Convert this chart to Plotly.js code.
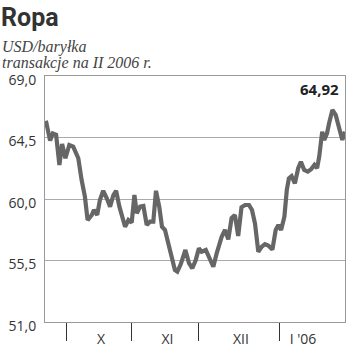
<!DOCTYPE html>
<html>
<head>
<meta charset="utf-8">
<script src="https://cdn.plot.ly/plotly-3.0.1.min.js"></script>
<style>
html,body{margin:0;padding:0;background:#fff;}
#chart{width:350px;height:355px;}
</style>
</head>
<body>
<div id="chart"></div>
<script>
// session position (chart scale 0..100) and price USD/barrel
const sesja = [0.3,1.7,2.6,3.7,4.8,5.7,6.8,8.1,9.4,11.1,12.2,13.3,14.2,15.6,16.3,17.4,18.3,19.4,20.6,21.7,22.8,23.7,24.8,25.9,26.7,27.8,28.9,29.8,30.6,31.7,32.8,33.9,35,36.1,37,38.1,39,40,41.1,42.2,43.3,44.1,45.2,46.8,48,49.1,50.2,51.3,52.2,53.6,54.7,56.1,57.2,58.9,60,61.1,62.2,63.3,64.4,65.5,66.7,68,69,70,71.1,72.2,73.3,74.4,75.8,76.9,77.8,78.7,79.8,80.6,81.3,82.2,83.3,84.4,85.3,86.4,87.6,88.7,89.8,90.7,91.4,92.4,93.1,94,94.7,95.8,96.9,98,99.1,100];
const cena = [65.73,64.27,64.8,64.7,62.49,64.02,62.98,63.95,63.83,62.98,61.39,60.17,58.46,58.83,59.2,58.83,59.93,60.6,60.05,59.44,60.29,60.6,59.44,58.59,57.97,58.46,58.27,60.29,58.95,59.44,59.49,58.1,58.34,58.34,60.6,59.4,57.97,57.73,56.76,55.54,54.8,54.68,55.2,56.27,55.3,54.93,55.5,56.39,56.14,56.27,55.66,55.05,56.0,57.24,57.73,57.05,58.6,58.83,57.3,59.4,59.56,59.56,59.2,58.2,56.14,56.5,56.7,56.6,56.3,57.73,58.1,57.73,58.7,60.66,61.51,61.68,61.15,62.25,62.73,62.12,62.0,62.17,62.49,62.25,63.1,64.92,64.32,64.8,65.54,66.51,66.15,65.29,64.32,64.92];

const monthBounds = [7, 28.7, 51.3, 78];
const monthLabelPos = [18.7, 40.8, 65.3, 86];
const monthLabels = ['X', 'XI', 'XII', "I '06"];
const yTickVals = [51, 55.5, 60, 64.5, 69];
const yTickText = ['51,0', '55,5', '60,0', '64,5', '69,0'];
const lastLabel = '64,92';

const trace = {
  x: sesja, y: cena, type: 'scatter', mode: 'lines',
  line: {color: '#666666', width: 4.2, shape: 'linear'},
  hoverinfo: 'skip', cliponaxis: true
};

const layout = {
  width: 350, height: 355,
  margin: {l: 45, r: 5, t: 76, b: 33, pad: 0},
  paper_bgcolor: '#fff', plot_bgcolor: '#fff',
  showlegend: false,
  xaxis: {
    range: [0, 100], showgrid: false, zeroline: false,
    showline: true, mirror: true, linecolor: '#999', linewidth: 1,
    tickmode: 'array', tickvals: monthLabelPos, ticktext: monthLabels,
    ticks: '', ticklabelstandoff: 4,
    tickfont: {family: 'Open Sans', size: 14, color: '#333'},
    minor: {tickmode: 'array', tickvals: monthBounds, ticks: 'outside', ticklen: 18, tickwidth: 1, tickcolor: '#333', showgrid: false}
  },
  yaxis: {
    range: [51, 69], zeroline: false,
    showline: true, mirror: true, linecolor: '#999', linewidth: 1,
    showgrid: true, gridcolor: '#aaaaaa', gridwidth: 1,
    tickmode: 'array', tickvals: yTickVals, ticktext: yTickText,
    ticks: '', ticklabelstandoff: 5, ticklabelshift: 4,
    tickfont: {family: 'Open Sans', size: 14, color: '#333'}
  },
  annotations: [
    {xref: 'paper', yref: 'paper', x: 0.987, y: 0.948, xanchor: 'right', yanchor: 'middle',
     text: '<b>' + lastLabel + '</b>', showarrow: false,
     font: {family: 'Open Sans', size: 15, color: '#222'}},
    {xref: 'paper', yref: 'paper', x: -0.152, y: 1.236, xanchor: 'left', yanchor: 'middle',
     text: 'Ropa', showarrow: false,
     font: {family: 'Roboto', size: 25, color: '#333', weight: 700}},
    {xref: 'paper', yref: 'paper', x: -0.15, y: 1.116, xanchor: 'left', yanchor: 'middle',
     text: '<i>USD/baryłka</i>', showarrow: false,
     font: {family: 'Liberation Serif', size: 16, color: '#444'}},
    {xref: 'paper', yref: 'paper', x: -0.15, y: 1.054, xanchor: 'left', yanchor: 'middle',
     text: '<i>transakcje na II 2006 r.</i>', showarrow: false,
     font: {family: 'Liberation Serif', size: 16, color: '#444'}}
  ]
};

Plotly.newPlot('chart', [trace], layout, {displayModeBar: false, staticPlot: true});
</script>
</body>
</html>
